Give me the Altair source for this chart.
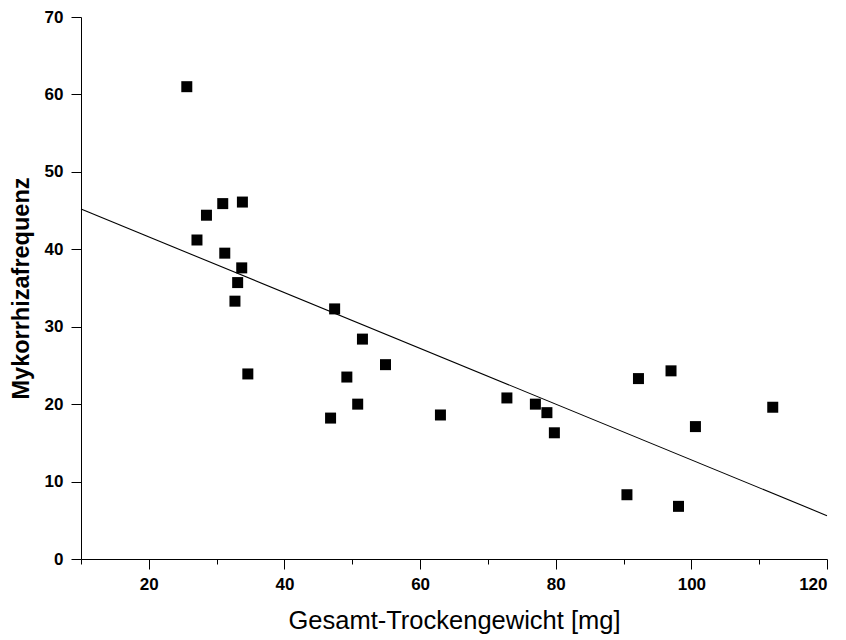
import altair as alt
import pandas as pd

# Data
x_vals = [25.6, 30.9, 33.8, 28.5, 27.1, 31.2, 33.7, 33.1, 32.7, 47.4, 51.5, 34.6,
          49.2, 54.9, 50.8, 46.8, 63.0, 72.8, 77.0, 78.7, 79.8, 92.2, 97.0, 112.0,
          100.6, 90.5, 98.1]
y_vals = [61.0, 45.9, 46.1, 44.4, 41.2, 39.5, 37.6, 35.7, 33.3, 32.3, 28.4, 23.9,
          23.5, 25.1, 20.0, 18.2, 18.6, 20.8, 20.0, 18.9, 16.3, 23.3, 24.3, 19.6,
          17.1, 8.3, 6.8]

fit_x = [10, 120]
fit_y = [45.2, 5.6]

x_ticks = [10, 20, 30, 40, 50, 60, 70, 80, 90, 100, 110, 120]
y_ticks = [0, 5, 10, 15, 20, 25, 30, 35, 40, 45, 50, 55, 60, 65, 70]

pts = pd.DataFrame({"x": x_vals, "y": y_vals})
fit = pd.DataFrame({"x": fit_x, "y": fit_y})

FONT = "Liberation Sans"
PLOT_TOP = 9

xs = alt.Scale(domain=[10, 120], nice=False, zero=False)
ys = alt.Scale(domain=[0, 70], nice=False, zero=False)

x_axis = alt.Axis(
    values=x_ticks,
    orient="bottom",
    grid=False,
    domainColor="black",
    domainWidth=1,
    tickColor="black",
    tickWidth=1,
    tickSize={"condition": {"test": "datum.value % 20 === 0", "value": 10}, "value": 5},
    labelExpr="datum.value % 20 === 0 ? datum.label : ''",
    labelFont=FONT,
    labelFontSize=17,
    labelFontWeight="bold",
    labelColor="black",
    labelPadding=7,
    title="Gesamt-Trockengewicht [mg]",
    titleFont=FONT,
    titleFontSize=25.5,
    titleFontWeight="normal",
    titleColor="black",
    titleBaseline="alphabetic",
    titleY=69,
)

y_axis = alt.Axis(
    values=y_ticks,
    orient="left",
    grid=False,
    domainColor="black",
    domainWidth=1,
    tickColor="black",
    tickWidth=1,
    tickSize={"condition": {"test": "datum.value % 10 === 0", "value": 10}, "value": 5},
    labelExpr="datum.value % 10 === 0 ? datum.label : ''",
    labelFont=FONT,
    labelFontSize=17,
    labelFontWeight="bold",
    labelColor="black",
    labelPadding=8,
    title="Mykorrhizafrequenz",
    titleFont=FONT,
    titleFontSize=23.5,
    titleFontWeight="bold",
    titleColor="black",
    titleBaseline="alphabetic",
    titleAngle=270,
    titleX=-53,
    titleY=271,
)

line = alt.Chart(fit).mark_line(color="black", strokeWidth=1.1).encode(
    x=alt.X("x:Q", scale=xs, axis=x_axis),
    y=alt.Y("y:Q", scale=ys, axis=y_axis),
)

points = alt.Chart(pts).mark_point(
    shape="square", filled=True, color="black", size=121, opacity=1
).encode(
    x=alt.X("x:Q", scale=xs),
    y=alt.Y("y:Q", scale=ys),
)

chart = (
    alt.layer(line, points)
    .properties(
        width=746,
        height=542,
        autosize=alt.AutoSizeParams(type="none"),
        padding={"left": 73, "top": PLOT_TOP, "right": 10, "bottom": 76},
        background="white",
    )
    .configure_view(stroke=None)
)

chart.save("out.html", embed_options={"renderer": "svg", "actions": False})
